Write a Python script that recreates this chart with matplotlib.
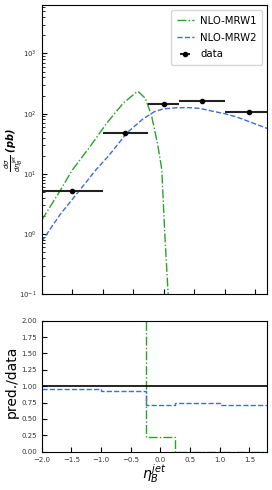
import numpy as np
import matplotlib
matplotlib.use('Agg')
import matplotlib.pyplot as plt

# curve NLO
eta_mrw1 = [-2.0, -1.7, -1.5, -1.2, -0.93, -0.66, -0.45, -0.42, -0.3, -0.2, -0.1, -0.03, 0.02, 0.075, 0.1]
xs_mrw1 = [1.7, 5.2, 11.5, 29, 70, 150, 225, 234, 180, 95, 32, 12, 1.0, 0.1, 0.03]

eta_mrw2 = [-2.0, -1.7, -1.4, -1.1, -0.9, -0.6, -0.35, -0.15, 0.0, 0.2, 0.4, 0.6, 0.8, 1.0, 1.2, 1.4, 1.6, 1.8]
xs_mrw2 = [0.75, 2.1, 5.0, 12, 20, 48, 80, 108, 120, 125, 126, 122, 110, 100, 88, 74, 62, 52]

# dati
eta_data = [-1.5, -0.625, 0.0, 0.625, 1.4]
eta_err = [0.5, 0.375, 0.25, 0.375, 0.4]
xs_data = [5.2, 47, 143, 160, 106]

# rapporti pred./data per bin
bin_edges = [-2.0, -1.0, -0.25, 0.25, 1.0, 1.8]
ratio_mrw1 = [2.3, 3.6, 0.23, 0.0, 0.0]
ratio_mrw2 = [0.96, 0.92, 0.72, 0.75, 0.72]

green = '#2ca02c'
blue = 'royalblue'


def set_ticks(ax):
    ax.tick_params(axis='both', which='both', direction='in', labelsize=5,
                   labelcolor='#333333')
    ax.tick_params(axis='both', which='major', length=3.5)
    ax.tick_params(axis='both', which='minor', length=2)


fig = plt.figure(figsize=(2.72, 4.9), dpi=100)
ax1 = fig.add_axes([0.1533, 0.3994, 0.829, 0.5898])
ax2 = fig.add_axes([0.1533, 0.0782, 0.829, 0.2673])

# pannello superiore
ax1.plot(eta_mrw1, xs_mrw1, '-.', color=green, lw=1.0, label='NLO-MRW1')
ax1.plot(eta_mrw2, xs_mrw2, '--', color=blue, lw=1.0, label='NLO-MRW2')
ax1.errorbar(eta_data, xs_data, xerr=eta_err, fmt='o', color='k', ecolor='#222222',
             ms=3, elinewidth=1.5, capsize=0, label='data')
ax1.set_yscale('log')
ax1.set_xlim(-2.0, 1.7)
ax1.set_ylim(0.1, 6300)
ax1.set_xticks(np.arange(-2.0, 1.75, 0.5))
ax1.set_xticklabels([])
set_ticks(ax1)
ax1.set_ylabel(r'$\frac{d\sigma}{d\eta_B^{jet}}$ (pb)', fontsize=7,
               fontweight='bold', style='italic')
ax1.yaxis.set_label_coords(-0.075, 0.5)
ax1.legend(loc='upper right', fontsize=7.3, handlelength=1.7, borderpad=0.55,
           labelspacing=0.65, handletextpad=0.6, fancybox=True)

# pannello inferiore: rapporto
ax2.stairs(ratio_mrw1, bin_edges, baseline=None, color=green, ls='-.', lw=1.0)
ax2.stairs(ratio_mrw2, bin_edges, baseline=None, color=blue, ls='--', lw=1.0)
ax2.axhline(1.0, color='k', lw=1.2)
ax2.set_xlim(-2.0, 1.8)
ax2.set_ylim(0.0, 2.0)
ax2.set_yticks(np.arange(0.0, 2.01, 0.25))
ax2.set_xticks(np.arange(-2.0, 1.75, 0.5))
set_ticks(ax2)
ax2.set_ylabel('pred./data', fontsize=10)
ax2.yaxis.set_label_coords(-0.1, 0.53)
ax2.set_xlabel(r'$\eta_B^{jet}$', fontsize=10, labelpad=0)

plt.savefig('out.png', dpi=100)
